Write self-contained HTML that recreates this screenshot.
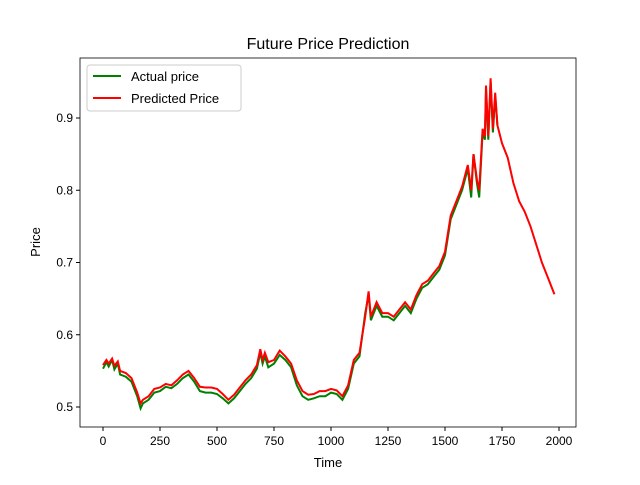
<!DOCTYPE html>
<html><head><meta charset="utf-8"><style>
body{margin:0;background:#fff;font-family:"Liberation Sans","DejaVu Sans",sans-serif}
</style></head><body>
<svg id="chart" width="640" height="480" viewBox="0 0 640 480">
<rect width="640" height="480" fill="#fff"/>
<text x="328" y="49" font-size="16" text-anchor="middle">Future Price Prediction</text>
<g id="plot"></g>
<rect x="80" y="58" width="496" height="369" fill="none" stroke="#000" stroke-width="0.8"/>
<g id="xt" font-size="12" text-anchor="middle"></g>
<g id="yt" font-size="12" text-anchor="end"></g>
<text x="328" y="467" font-size="13" text-anchor="middle">Time</text>
<text x="40" y="242" font-size="13" text-anchor="middle" transform="rotate(-90 40 242)">Price</text>
<g>
<rect x="87" y="65" width="154" height="46" fill="#fff" fill-opacity="0.8" stroke="#ccc" rx="3"/>
<line x1="93" y1="76" x2="121" y2="76" stroke="green" stroke-width="2"/>
<text x="131" y="81" font-size="13">Actual price</text>
<line x1="93" y1="98" x2="121" y2="98" stroke="red" stroke-width="2"/>
<text x="131" y="103" font-size="13">Predicted Price</text>
</g>
</svg>
<script>
const actualX=[0,15,25,40,50,65,75,100,125,150,165,175,200,225,250,275,300,325,350,375,400,425,450,475,500,525,550,575,600,625,650,675,690,700,710,725,750,775,800,825,850,875,900,925,950,975,1000,1025,1050,1075,1100,1125,1150,1165,1175,1200,1225,1250,1275,1300,1325,1350,1375,1400,1425,1450,1475,1500,1525,1550,1575,1600,1615,1625,1640,1650,1665,1675,1680,1690,1700,1710,1720,1730];
const actualY=[0.553,0.562,0.556,0.565,0.552,0.56,0.545,0.542,0.535,0.515,0.498,0.505,0.51,0.52,0.522,0.528,0.526,0.532,0.54,0.545,0.535,0.522,0.52,0.52,0.518,0.512,0.505,0.512,0.522,0.532,0.54,0.553,0.575,0.56,0.57,0.555,0.56,0.572,0.565,0.555,0.53,0.515,0.51,0.512,0.515,0.515,0.52,0.518,0.51,0.525,0.56,0.57,0.63,0.655,0.62,0.64,0.625,0.625,0.62,0.63,0.64,0.63,0.65,0.665,0.67,0.68,0.69,0.71,0.76,0.78,0.8,0.83,0.79,0.85,0.81,0.79,0.88,0.87,0.94,0.87,0.95,0.88,0.93,0.89];
const predX=[0,15,25,40,50,65,75,100,125,150,165,175,200,225,250,275,300,325,350,375,400,425,450,475,500,525,550,575,600,625,650,675,690,700,710,725,750,775,800,825,850,875,900,925,950,975,1000,1025,1050,1075,1100,1125,1150,1165,1175,1200,1225,1250,1275,1300,1325,1350,1375,1400,1425,1450,1475,1500,1525,1550,1575,1600,1615,1625,1640,1650,1665,1675,1680,1690,1700,1710,1720,1730,1750,1775,1800,1825,1850,1875,1900,1925,1950,1980];
const predY=[0.558,0.565,0.56,0.567,0.557,0.563,0.55,0.547,0.54,0.52,0.505,0.51,0.515,0.525,0.527,0.532,0.53,0.537,0.545,0.55,0.54,0.528,0.527,0.527,0.525,0.518,0.51,0.517,0.527,0.537,0.545,0.558,0.58,0.565,0.575,0.562,0.565,0.578,0.57,0.56,0.537,0.522,0.517,0.518,0.522,0.522,0.525,0.523,0.515,0.53,0.565,0.575,0.625,0.66,0.625,0.645,0.63,0.63,0.625,0.635,0.645,0.635,0.655,0.67,0.675,0.685,0.695,0.715,0.765,0.785,0.805,0.835,0.8,0.85,0.815,0.8,0.885,0.875,0.945,0.875,0.955,0.885,0.935,0.89,0.865,0.845,0.81,0.785,0.77,0.75,0.725,0.7,0.68,0.656];
const xTicks=[0,250,500,750,1000,1250,1500,1750,2000];
const yTicks=[0.5,0.6,0.7,0.8,0.9];
const sx=v=>103+v*0.228;
const sy=v=>407-(v-0.5)*722.5;
const NS="http://www.w3.org/2000/svg";
function path(xs,ys,color,name){
  const p=document.createElementNS(NS,'path');
  p.setAttribute('d',xs.map((x,i)=>(i?'L':'M')+sx(x).toFixed(1)+','+sy(ys[i]).toFixed(1)).join(''));
  p.setAttribute('fill','none');p.setAttribute('stroke',color);p.setAttribute('stroke-width','2');
  
  
  document.getElementById('plot').appendChild(p);
}
path(actualX,actualY,'green','actual-price-line');
path(predX,predY,'red','predicted-price-line');
const xt=document.getElementById('xt');
xTicks.forEach(t=>{
  const l=document.createElementNS(NS,'line');
  l.setAttribute('x1',sx(t));l.setAttribute('x2',sx(t));l.setAttribute('y1',427);l.setAttribute('y2',431);l.setAttribute('stroke','#000');
  
  
  xt.appendChild(l);
  const s=document.createElementNS(NS,'text');
  s.setAttribute('x',sx(t));s.setAttribute('y',445);s.textContent=t;
  
  
  xt.appendChild(s);
});
const yt=document.getElementById('yt');
yTicks.forEach(t=>{
  const l=document.createElementNS(NS,'line');
  l.setAttribute('x1',76);l.setAttribute('x2',80);l.setAttribute('y1',sy(t));l.setAttribute('y2',sy(t));l.setAttribute('stroke','#000');
  
  
  yt.appendChild(l);
  const s=document.createElementNS(NS,'text');
  s.setAttribute('x',73);s.setAttribute('y',sy(t)+4);s.textContent=t.toFixed(1);
  
  
  yt.appendChild(s);
});
</script>
</body></html>
